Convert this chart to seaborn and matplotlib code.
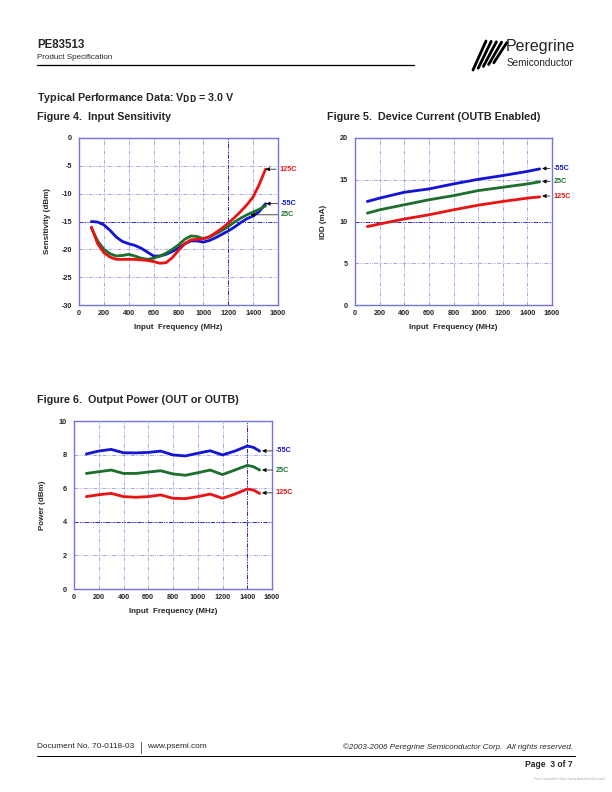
import numpy as np
import pandas as pd
import matplotlib
matplotlib.use("Agg")
import matplotlib.pyplot as plt
from matplotlib.lines import Line2D
import seaborn as sns

# ---------------- data ----------------
freq4 = [100, 150, 200, 250, 300, 350, 400, 450, 500, 550, 600, 650, 700, 750,
         800, 850, 900, 950, 1000, 1050, 1100, 1150, 1200, 1250, 1300, 1350,
         1400, 1450, 1500]
sens_m55 = [-15.0, -15.1, -15.6, -16.6, -17.8, -18.6, -19.0, -19.3, -19.8, -20.5,
            -21.2, -21.2, -20.9, -20.4, -19.8, -19.0, -18.5, -18.5, -18.7, -18.4,
            -17.9, -17.3, -16.7, -16.0, -15.2, -14.5, -14.0, -13.2, -11.8]
sens_25 = [-16.2, -18.5, -20.0, -20.8, -21.2, -21.1, -20.9, -21.2, -21.6, -21.8,
           -21.6, -21.2, -20.7, -20.0, -19.2, -18.2, -17.6, -17.7, -18.1, -17.8,
           -17.2, -16.6, -15.9, -15.1, -14.4, -13.8, -13.3, -12.8, -12.2]
sens_125 = [-16.0, -19.0, -20.6, -21.4, -21.8, -21.8, -21.8, -21.8, -21.9, -22.0,
            -22.2, -22.5, -22.4, -21.5, -20.2, -19.0, -18.3, -18.2, -18.1, -17.7,
            -17.0, -16.2, -15.3, -14.3, -13.2, -12.0, -10.6, -8.3, -5.6]

freq5 = [100, 200, 400, 600, 800, 1000, 1200, 1400, 1500]
idd_m55 = [12.4, 12.8, 13.5, 13.9, 14.5, 15.05, 15.5, 16.0, 16.3]
idd_25 = [11.0, 11.4, 12.0, 12.6, 13.1, 13.7, 14.1, 14.5, 14.75]
idd_125 = [9.4, 9.7, 10.3, 10.8, 11.4, 11.95, 12.4, 12.8, 12.95]

freq6 = [100, 200, 300, 400, 500, 600, 700, 800, 900, 1000, 1100, 1200, 1300,
         1400, 1450, 1500]
pow_m55 = [8.04, 8.21, 8.31, 8.11, 8.10, 8.13, 8.21, 7.98, 7.92, 8.08, 8.23, 7.98,
           8.21, 8.51, 8.43, 8.21]
pow_25 = [6.88, 6.98, 7.08, 6.88, 6.88, 6.96, 7.04, 6.85, 6.77, 6.92, 7.08, 6.81,
          7.08, 7.36, 7.28, 7.08]
pow_125 = [5.50, 5.61, 5.69, 5.50, 5.46, 5.50, 5.60, 5.40, 5.38, 5.50, 5.65, 5.40,
           5.65, 5.95, 5.89, 5.69]

temps = ["-55C", "25C", "125C"]
colors = {"-55C": "#1414d2", "25C": "#1e6e2e", "125C": "#e81414"}

# ---------------- figure ----------------
sns.set_style("white")
plt.rcParams['font.family'] = ['Liberation Sans', 'DejaVu Sans']
plt.rcParams['axes.unicode_minus'] = False
fig = plt.figure(figsize=(8.5, 11), dpi=72)
W, H = 612.0, 792.0

def fx(px):
    return px / W

def fy(py):
    return 1 - py / H

def add_axes(l, t, r, b):
    return fig.add_axes([fx(l), fy(b), (r - l) / W, (b - t) / H])

grid_col = "#9a9ae6"
dark_grid = "#2a2ad0"
frame_col = "#7474dc"
dashstyle = (0, (4, 1.5, 1, 1.5, 1, 1.5))
TICK_FS = 7.3
LAB_FS = 8

def style_axes(ax, ylim, yticks, ylabel, dark_x=None, dark_y=None, ylabelpad=12):
    ax.set_xlim(0, 1600)
    ax.set_ylim(*ylim)
    ax.set_xticks(np.arange(0, 1601, 200))
    ax.set_yticks(yticks)
    ax.tick_params(axis='both', length=0, labelsize=TICK_FS)
    ax.tick_params(axis='x', pad=5)
    ax.tick_params(axis='y', pad=7)
    for lab in ax.get_xticklabels() + ax.get_yticklabels():
        lab.set_fontweight('bold')
    ax.grid(True, color=grid_col, lw=0.9, linestyle=dashstyle)
    for s in ax.spines.values():
        s.set_color(frame_col)
        s.set_linewidth(1.4)
    if dark_x is not None:
        ax.axvline(dark_x, color=dark_grid, lw=1.0, linestyle=dashstyle, zorder=1)
    if dark_y is not None:
        ax.axhline(dark_y, color=dark_grid, lw=1.0, linestyle=dashstyle, zorder=1)
    ax.set_xlabel("Input  Frequency (MHz)", fontsize=LAB_FS, fontweight='bold', labelpad=7)
    ax.set_ylabel(ylabel, fontsize=LAB_FS, fontweight='bold', labelpad=ylabelpad)

def draw_series(ax, x, series):
    frames = []
    for t, vals in zip(temps, series):
        frames.append(pd.DataFrame({"freq": x, "val": vals, "temp": t}))
    df = pd.concat(frames, ignore_index=True)
    sns.lineplot(data=df, x="freq", y="val", hue="temp", palette=colors,
                 linewidth=2.8, ax=ax, legend=False, sort=True)

def label(ax, text, tip, txt_xy):
    ax.annotate(text, xy=tip, xytext=txt_xy, textcoords='data',
                color=colors[text], fontsize=7.3, fontweight='bold',
                ha='left', va='center', annotation_clip=False,
                arrowprops=dict(arrowstyle='-|>', color='black', lw=0.7,
                                mutation_scale=8, shrinkA=1, shrinkB=0,
                                relpos=(0, 0.5)))

# Figure 4
ax4 = add_axes(79, 138, 278, 305)
draw_series(ax4, freq4, [sens_m55, sens_25, sens_125])
style_axes(ax4, (-30, 0), np.arange(-30, 1, 5), "Sensitivity (dBm)",
           dark_x=1200, dark_y=-15, ylabelpad=10)
label(ax4, "125C", (1500, -5.6), (1612, -5.6))
label(ax4, "-55C", (1505, -11.8), (1625, -11.8))
label(ax4, "25C", (1380, -13.8), (1625, -13.8))

# Figure 5
ax5 = add_axes(355, 138, 552, 305)
draw_series(ax5, freq5, [idd_m55, idd_25, idd_125])
style_axes(ax5, (0, 20), np.arange(0, 21, 5), "IDD (mA)", dark_y=10, ylabelpad=13)
label(ax5, "-55C", (1520, 16.35), (1612, 16.35))
label(ax5, "25C", (1520, 14.8), (1612, 14.8))
label(ax5, "125C", (1520, 13.05), (1612, 13.05))

# Figure 6
ax6 = add_axes(74, 421, 272, 589)
draw_series(ax6, freq6, [pow_m55, pow_25, pow_125])
style_axes(ax6, (0, 10), np.arange(0, 11, 2), "Power (dBm)",
           dark_x=1400, dark_y=4, ylabelpad=13)
label(ax6, "-55C", (1520, 8.22), (1630, 8.22))
label(ax6, "25C", (1520, 7.08), (1630, 7.08))
label(ax6, "125C", (1520, 5.72), (1630, 5.72))

# ---------------- page text ----------------
fig.text(fx(37), fy(45), "PE83513", fontsize=11.5, fontweight='bold', va='center')
fig.text(fx(37), fy(57.5), "Product Specification", fontsize=8, va='center')
fig.add_artist(Line2D([fx(37), fx(414)], [fy(64.5), fy(64.5)], color='black', lw=1.3))

# logo strokes
for i in range(5):
    x0 = 473 + i * 5.2
    fig.add_artist(Line2D([fx(x0), fx(x0 + 13)], [fy(70 - i * 1.8), fy(41 + i * 0.4)],
                          color='black', lw=2.8, solid_capstyle='round'))
fig.text(fx(506), fy(47), "Peregrine", fontsize=16, va='center',
         family=['Liberation Sans Narrow', 'Liberation Sans'])
fig.text(fx(507), fy(63), "Semiconductor", fontsize=10, va='center',
         family=['Liberation Sans Narrow', 'Liberation Sans'])

fig.text(fx(37), fy(98), r"Typical Performance Data: V$_{\mathbf{DD}}$ = 3.0 V",
         fontsize=10.8, fontweight='bold', va='center')
fig.text(fx(37), fy(117), "Figure 4.  Input Sensitivity", fontsize=10.8,
         fontweight='bold', va='center')
fig.text(fx(327), fy(117), "Figure 5.  Device Current (OUTB Enabled)", fontsize=10.8,
         fontweight='bold', va='center')
fig.text(fx(37), fy(400), "Figure 6.  Output Power (OUT or OUTB)", fontsize=10.8,
         fontweight='bold', va='center')

# footer
fig.text(fx(37), fy(747), "Document No. 70-0118-03", fontsize=8.3, va='center')
fig.add_artist(Line2D([fx(141), fx(141)], [fy(742), fy(753)], color='black', lw=0.6))
fig.text(fx(147), fy(747), "www.psemi.com", fontsize=8.3, va='center')
fig.text(fx(573), fy(747), "\u00a92003-2006 Peregrine Semiconductor Corp.  All rights reserved.",
         fontsize=8, style='italic', va='center', ha='right')
fig.add_artist(Line2D([fx(37), fx(575)], [fy(756), fy(756)], color='black', lw=1.0))
fig.text(fx(573), fy(764.5), "Page  3 of 7", fontsize=8.5, fontweight='bold',
         va='center', ha='right', family=['Liberation Sans Narrow', 'Liberation Sans'])
fig.text(fx(605), fy(779), "Free Datasheet http://www.datasheet4u.com/", fontsize=3.5,
         color='#aaaaaa', va='center', ha='right')

fig.savefig("out.png", dpi=72)
